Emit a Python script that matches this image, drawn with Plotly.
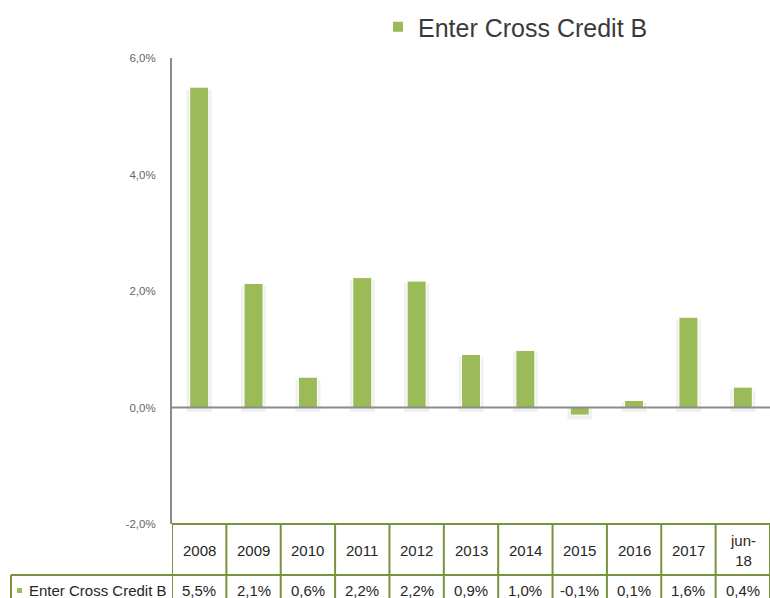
import plotly.graph_objects as go

categories = ["2008", "2009", "2010", "2011", "2012", "2013", "2014", "2015", "2016", "2017", "jun-<br>18"]
bar_values = [5.5, 2.13, 0.52, 2.23, 2.17, 0.91, 0.98, -0.13, 0.12, 1.55, 0.35]
table_labels = ["5,5%", "2,1%", "0,6%", "2,2%", "2,2%", "0,9%", "1,0%", "-0,1%", "0,1%", "1,6%", "0,4%"]
series_name = "Enter Cross Credit B"
tick_vals = [-2, 0, 2, 4, 6]
tick_text = ["-2,0%", "0,0%", "2,0%", "4,0%", "6,0%"]

GREEN = "#9BBB59"
BORDER = "#77933C"
FONT = "Liberation Sans, Arial, sans-serif"

W, H = 770, 598
ML, MR, MT, MB = 172, 0, 58, 74
plot_h = H - MT - MB

def py(p):
    return (H - MB - p) / plot_h

def px_x(p):
    return (p - ML) / (W - ML - MR)

n = len(categories)
xs = list(range(n))

fig = go.Figure()

# soft shadow halo behind bars
fig.add_trace(go.Bar(
    x=xs, y=[v + (0.04 if v >= 0 else -0.08) for v in bar_values],
    base=[-0.08 if v >= 0 else 0.0 for v in bar_values],
    width=0.46, marker=dict(color="rgba(0,0,0,0.06)", line=dict(width=0)),
    showlegend=False, hoverinfo="skip",
))
fig.add_trace(go.Bar(
    x=xs, y=bar_values, width=0.35, name=series_name,
    marker=dict(color=GREEN, line=dict(color="white", width=1)),
))

shapes = []
line = dict(color=BORDER, width=2)
shapes.append(dict(type="line", xref="paper", yref="paper", x0=0, x1=1.01, y0=py(524), y1=py(524), line=line))
shapes.append(dict(type="line", xref="paper", yref="paper", x0=px_x(11), x1=1.01, y0=py(575), y1=py(575), line=line))
shapes.append(dict(type="line", xref="paper", yref="paper", x0=px_x(11), x1=1.01, y0=py(600), y1=py(600), line=line))
for i in range(n + 1):
    shapes.append(dict(type="line", xref="x", yref="paper", x0=i - 0.5, x1=i - 0.5, y0=py(524), y1=py(602), line=line))
shapes.append(dict(type="line", xref="paper", yref="paper", x0=px_x(11), x1=px_x(11), y0=py(575), y1=py(602), line=line))
shapes.append(dict(type="line", xref="paper", yref="y", x0=0, x1=1, y0=0, y1=0,
                   line=dict(color="#8C8C8C", width=2), layer="above"))

TFONT = dict(family=FONT, size=15, color="#262626")
annotations = []
for i, c in enumerate(categories):
    annotations.append(dict(x=i, y=py(550), xref="x", yref="paper", text=c, showarrow=False,
                            font=TFONT, xanchor="center", yanchor="middle"))
    annotations.append(dict(x=i, y=py(590), xref="x", yref="paper", text=table_labels[i], showarrow=False,
                            font=TFONT, xanchor="center", yanchor="middle"))
annotations.append(dict(x=px_x(27), y=py(590), xref="paper", yref="paper", text=series_name, showarrow=False,
                        font=TFONT, xanchor="left", yanchor="middle"))
shapes.append(dict(type="rect", xref="paper", yref="paper", x0=px_x(17), x1=px_x(22), y0=py(593), y1=py(588),
                   fillcolor=GREEN, line=dict(width=0)))

fig.update_layout(
    width=W, height=H,
    margin=dict(l=ML, r=MR, t=MT, b=MB, pad=0),
    paper_bgcolor="white", plot_bgcolor="white",
    barmode="overlay",
    showlegend=True,
    legend=dict(orientation="h", x=px_x(378), y=py(27), xanchor="left", yanchor="middle",
                font=dict(family=FONT, size=25, color="#3A3A3A"), bgcolor="rgba(0,0,0,0)",
                itemwidth=30, itemsizing="constant"),
    xaxis=dict(range=[-0.5, n - 0.5], showticklabels=False, showgrid=False, zeroline=False,
               showline=False, ticks=""),
    yaxis=dict(range=[-2, 6], tickvals=tick_vals, ticktext=tick_text, showgrid=False, zeroline=False,
               showline=True, linecolor="#8C8C8C", linewidth=2, ticks="", ticklabelstandoff=12,
               tickfont=dict(family=FONT, size=11.5, color="#666666")),
    shapes=shapes, annotations=annotations,
    font=dict(family=FONT),
)

fig.write_html("out.html", config={"displayModeBar": False},
               post_script="document.body.style.margin='0';document.body.style.overflow='hidden';")
